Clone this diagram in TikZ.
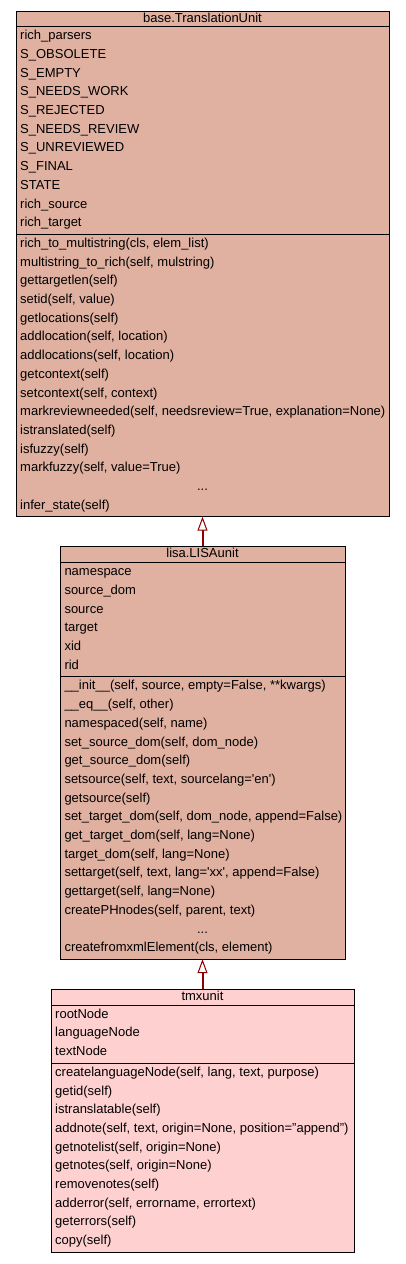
\documentclass[tikz,border=0pt]{standalone}
\usepackage{fontspec}
\setmainfont{Liberation Sans}
\usetikzlibrary{arrows.meta}
\definecolor{boxA}{RGB}{224,176,160}
\definecolor{boxB}{RGB}{255,208,208}
\definecolor{edgec}{RGB}{139,0,0}
\begin{document}
\begin{tikzpicture}[x=1pt,y=-1pt,
  comp/.style={draw=black, line width=1pt, inner sep=0pt, outer sep=0pt, anchor=north west},
  txt/.style={anchor=base west, inner sep=0pt, font=\fontsize{13}{15}\selectfont},
  ctxt/.style={anchor=base, inner sep=0pt, font=\fontsize{13}{15}\selectfont},
  inherit/.style={draw=edgec, line width=2pt, -{Triangle[open, length=14pt, width=10pt, line width=1pt, fill=white]}}]
\useasboundingbox (0,0) rectangle (405,1264);
\fill[white] (0,0) rectangle (405,1264);

% ---------- base.TranslationUnit ----------
\node[comp, fill=boxA, minimum width=373pt, minimum height=15.5pt] (b1t) at (16,11) {};
\node[comp, fill=boxA, minimum width=373pt, minimum height=207.7pt] (b1a) at (16,26.5) {};
\node[comp, fill=boxA, minimum width=373pt, minimum height=282.5pt] (b1m) at (16,234.2) {};
\node[ctxt] (b1title) at (202.5,22) {base.TranslationUnit};
\foreach \t [count=\i from 0] in {rich\_parsers, S\_OBSOLETE, S\_EMPTY, S\_NEEDS\_WORK, S\_REJECTED, S\_NEEDS\_REVIEW, S\_UNREVIEWED, S\_FINAL, STATE, rich\_source, rich\_target}
  \node[txt] (b1a\i) at (20, 26.5+13.2+\i*18.7) {\t};
\foreach \t [count=\i from 0] in {{rich\_to\_multistring(cls, elem\_list)}, {multistring\_to\_rich(self, mulstring)}, {gettargetlen(self)}, {setid(self, value)}, {getlocations(self)}, {addlocation(self, location)}, {addlocations(self, location)}, {getcontext(self)}, {setcontext(self, context)}, {markreviewneeded(self, needsreview=True, explanation=None)}, {istranslated(self)}, {isfuzzy(self)}, {markfuzzy(self, value=True)}}
  \node[txt] (b1m\i) at (20, 234.2+13.2+\i*18.7) {\t};
\node[ctxt] (b1dots) at (202.5, 234.2+13.2+13*18.7) {...};
\node[txt] (b1m14) at (20, 234.2+13.2+14*18.7) {infer\_state(self)};

% ---------- lisa.LISAunit ----------
\node[comp, fill=boxA, minimum width=285pt, minimum height=16.5pt] (b2t) at (60,546) {};
\node[comp, fill=boxA, minimum width=285pt, minimum height=114.2pt] (b2a) at (60,562.5) {};
\node[comp, fill=boxA, minimum width=285pt, minimum height=282.5pt] (b2m) at (60,676.7) {};
\node[ctxt] (b2title) at (202.5,557.5) {lisa.LISAunit};
\foreach \t [count=\i from 0] in {namespace, source\_dom, source, target, xid, rid}
  \node[txt] (b2a\i) at (64.3, 562.5+13.2+\i*18.7) {\t};
\foreach \t [count=\i from 0] in {{\_\_init\_\_(self, source, empty=False, **kwargs)}, {\_\_eq\_\_(self, other)}, {namespaced(self, name)}, {set\_source\_dom(self, dom\_node)}, {get\_source\_dom(self)}, {setsource(self, text, sourcelang=\textquotesingle en\textquotesingle)}, {getsource(self)}, {set\_target\_dom(self, dom\_node, append=False)}, {get\_target\_dom(self, lang=None)}, {target\_dom(self, lang=None)}, {settarget(self, text, lang=\textquotesingle xx\textquotesingle, append=False)}, {gettarget(self, lang=None)}, {createPHnodes(self, parent, text)}}
  \node[txt] (b2m\i) at (64.3, 676.7+13.2+\i*18.7) {\t};
\node[ctxt] (b2dots) at (202.5, 676.7+13.2+13*18.7) {...};
\node[txt] (b2m14) at (64.3, 676.7+13.2+14*18.7) {createfromxmlElement(cls, element)};

% ---------- tmxunit ----------
\node[comp, fill=boxB, minimum width=303pt, minimum height=16pt] (b3t) at (51,989) {};
\node[comp, fill=boxB, minimum width=303pt, minimum height=58.1pt] (b3a) at (51,1005) {};
\node[comp, fill=boxB, minimum width=303pt, minimum height=189pt] (b3m) at (51,1063.1) {};
\node[ctxt] (b3title) at (202.5,1000) {tmxunit};
\foreach \t [count=\i from 0] in {rootNode, languageNode, textNode}
  \node[txt] (b3a\i) at (55, 1005+13.2+\i*18.7) {\t};
\foreach \t [count=\i from 0] in {{createlanguageNode(self, lang, text, purpose)}, {getid(self)}, {istranslatable(self)}, {addnote(self, text, origin=None, position="append")}, {getnotelist(self, origin=None)}, {getnotes(self, origin=None)}, {removenotes(self)}, {adderror(self, errorname, errortext)}, {geterrors(self)}, {copy(self)}}
  \node[txt] (b3m\i) at (55, 1063.1+13.2+\i*18.7) {\t};

% ---------- inheritance ----------
\draw[inherit] (b2t.north) -- (b1m.south);
\draw[inherit] (b3t.north) -- (b2m.south);
\end{tikzpicture}
\end{document}
